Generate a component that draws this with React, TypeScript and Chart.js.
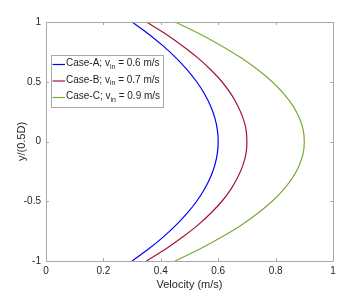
import React, { useEffect, useRef } from "react";
import { Chart, registerables } from "chart.js";

Chart.register(...registerables);

const yPositions = [-1, -0.9, -0.8, -0.7, -0.6, -0.5, -0.4, -0.3, -0.2, -0.1, 0, 0.1, 0.2, 0.3, 0.4, 0.5, 0.6, 0.7, 0.8, 0.9, 1];
const velocityA = [0.300, 0.357, 0.408, 0.453, 0.492, 0.525, 0.552, 0.573, 0.588, 0.597, 0.600, 0.597, 0.588, 0.573, 0.552, 0.525, 0.492, 0.453, 0.408, 0.357, 0.300];
const velocityB = [0.350, 0.417, 0.476, 0.529, 0.574, 0.613, 0.644, 0.668, 0.686, 0.697, 0.700, 0.697, 0.686, 0.668, 0.644, 0.613, 0.574, 0.529, 0.476, 0.417, 0.350];
const velocityC = [0.450, 0.536, 0.612, 0.680, 0.738, 0.788, 0.828, 0.860, 0.882, 0.896, 0.900, 0.896, 0.882, 0.860, 0.828, 0.788, 0.738, 0.680, 0.612, 0.536, 0.450];
const caseNames = ["Case-A", "Case-B", "Case-C"];
const inletSpeeds = ["0.6", "0.7", "0.9"];
const xTicks = [0, 0.2, 0.4, 0.6, 0.8, 1];
const yTicks = [-1, -0.5, 0, 0.5, 1];
const colors = ["#0000ff", "#a2142f", "#77ac30"];

const FONT = "'Liberation Sans', Arial, Helvetica, sans-serif";

const boxPlugin = {
  id: "matlabBox",
  afterDraw(chart: any) {
    const { ctx, chartArea } = chart;
    const { left, right, top, bottom } = chartArea;
    const xs = chart.scales.x;
    const ys = chart.scales.y;
    ctx.save();
    ctx.strokeStyle = "#a8a8a8";
    ctx.lineWidth = 1;
    ctx.beginPath();
    ctx.rect(Math.round(left) + 0.5, Math.round(top) + 0.5, Math.round(right - left), Math.round(bottom - top));
    const tl = 3;
    xTicks.forEach((v) => {
      const px = Math.round(xs.getPixelForValue(v)) + 0.5;
      ctx.moveTo(px, bottom);
      ctx.lineTo(px, bottom - tl);
      ctx.moveTo(px, top);
      ctx.lineTo(px, top + tl);
    });
    yTicks.forEach((v) => {
      const py = Math.round(ys.getPixelForValue(v)) + 0.5;
      ctx.moveTo(left, py);
      ctx.lineTo(left + tl, py);
      ctx.moveTo(right, py);
      ctx.lineTo(right - tl, py);
    });
    ctx.stroke();

    // legend
    const lx = 51.5;
    const ly = 55.5;
    const rows = [64.5, 81, 97.5];
    const mainFont = `10px ${FONT}`;
    const subFont = `7px ${FONT}`;
    const widths = caseNames.map((n, i) => {
      ctx.font = mainFont;
      const a = ctx.measureText(`${n}; v`).width;
      const c = ctx.measureText(` = ${inletSpeeds[i]} m/s`).width;
      ctx.font = subFont;
      const b = ctx.measureText("in").width;
      return a + b + c;
    });
    const textX = 66;
    const boxW = Math.round(textX + Math.max(...widths) + 3 - lx);
    ctx.fillStyle = "#ffffff";
    ctx.fillRect(lx, ly, boxW, 52);
    ctx.strokeStyle = "#a8a8a8";
    ctx.strokeRect(lx, ly, boxW, 52);
    caseNames.forEach((n, i) => {
      const y = rows[i];
      ctx.strokeStyle = colors[i];
      ctx.lineWidth = 1.2;
      ctx.beginPath();
      ctx.moveTo(52.5, y);
      ctx.lineTo(65, y);
      ctx.stroke();
      ctx.fillStyle = "#262626";
      ctx.textBaseline = "middle";
      ctx.textAlign = "left";
      ctx.font = mainFont;
      let x = textX;
      const s1 = `${n}; v`;
      ctx.fillText(s1, x, y - 1);
      x += ctx.measureText(s1).width;
      ctx.font = subFont;
      ctx.fillText("in", x, y + 2.5);
      x += ctx.measureText("in").width;
      ctx.font = mainFont;
      ctx.fillText(` = ${inletSpeeds[i]} m/s`, x, y - 1);
    });
    ctx.restore();
  },
};

export default function App() {
  const ref = useRef<HTMLCanvasElement>(null);
  useEffect(() => {
    document.body.style.margin = "0";
    const series = [velocityA, velocityB, velocityC];
    const chart = new Chart(ref.current!, {
      type: "scatter",
      data: {
        datasets: series.map((vals, i) => ({
          label: `${caseNames[i]}; v_in = ${inletSpeeds[i]} m/s`,
          data: vals.map((v, j) => ({ x: v, y: yPositions[j] })),
          showLine: true,
          borderColor: colors[i],
          backgroundColor: colors[i],
          borderWidth: 1.2,
          pointRadius: 0,
          tension: 0.3,
          clip: false as any,
        })),
      },
      options: {
        animation: false,
        responsive: false,
        layout: { padding: { top: 22, right: 26, left: 0, bottom: 0 } },
        plugins: { legend: { display: false }, tooltip: { enabled: false } },
        scales: {
          x: {
            type: "linear",
            min: 0,
            max: 1,
            afterFit: (s: any) => { s.height = 33; },
            afterBuildTicks: (s: any) => { s.ticks = xTicks.map((v) => ({ value: v })); },
            grid: { display: false, drawTicks: false },
            border: { display: false },
            ticks: {
              padding: 4,
              color: "#262626",
              font: { size: 10, family: FONT },
              callback: (v: any) => String(v),
            },
            title: {
              display: true,
              text: "Velocity (m/s)",
              color: "#262626",
              font: { size: 11, family: FONT },
              padding: { top: 0, bottom: 2.5 },
            },
          },
          y: {
            type: "linear",
            min: -1,
            max: 1,
            afterFit: (s: any) => { s.width = 46; },
            afterBuildTicks: (s: any) => { s.ticks = yTicks.map((v) => ({ value: v })); },
            grid: { display: false, drawTicks: false },
            border: { display: false },
            ticks: {
              padding: 5,
              color: "#262626",
              font: { size: 10, family: FONT },
              callback: (v: any) => String(v),
            },
            title: {
              display: true,
              text: "y/(0.5D)",
              color: "#262626",
              font: { size: 11, family: FONT },
              padding: { top: 15, bottom: 0 },
            },
          },
        },
      },
      plugins: [boxPlugin],
    });
    return () => chart.destroy();
  }, []);
  return (
    <div style={{ position: "fixed", left: 0, top: 0, width: 359, height: 294, background: "#fff" }}>
      <canvas ref={ref} width={359} height={294} />
    </div>
  );
}
